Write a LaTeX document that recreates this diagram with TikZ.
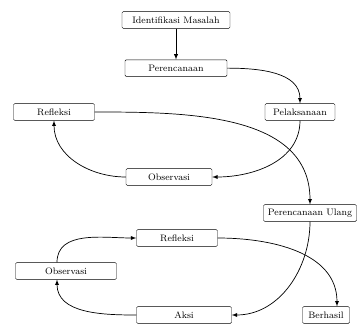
\documentclass[tikz,border=0pt]{standalone}
\usepackage{tikz}
\usetikzlibrary{arrows}
\usetikzlibrary{positioning}

\begin{document}
\begin{tikzpicture}[x=0.03cm,y=-0.03cm]
    \tikzstyle{every node}=[font=\footnotesize,node distance=0.93cm]
    \tikzstyle{every path}=[draw=black,semithick]
    \tikzstyle{bnode}=[draw=black,thin,rounded corners=1pt,minimum height=0.5cm,inner sep=1pt]

    \useasboundingbox[draw=none] (0,0) rectangle (357,329);

    \node[bnode,minimum width=3.24cm] (identify) at (176,20) {Identifikasi Masalah} ;
    \node[bnode,minimum width=3.06cm,below=of identify] (plan) {Perencanaan} ;
    \node[bnode,minimum width=2.1cm] (act) at (300,112) {Pelaksanaan} ;
    \node[bnode,minimum width=2.43cm] (reflect) at (54,112) {Refleksi} ;
    \node[bnode,minimum width=2.58cm] (observe) at (169,177) {Observasi} ;

    \node[bnode,minimum width=2.79cm] (replan) at (310,213) {Perencanaan Ulang} ;
    \node[bnode,minimum width=2.43cm] (reflecttwo) at (177,238) {Refleksi} ;
    \node[bnode,minimum width=3.03cm] (observetwo) at (66,271) {Observasi} ;
    \node[bnode,minimum width=2.85cm] (action) at (184,315) {Aksi} ;
    \node[bnode,minimum width=1.41cm] (success) at (326,315) {Berhasil} ;

    % first cycle
    \draw[-latex] (identify.south) -- (plan.north) ;
    \draw[-latex] (plan.east) to[out=0,in=90] (act.north) ;
    \draw[-latex] (act.south) to[out=-90,in=0] (observe.east) ;
    \draw[-latex] (observe.west) to[out=180,in=-90] (reflect.south) ;
    \draw[-latex] (reflect.east) to[out=0,in=90] (replan.north) ;

    % second cycle
    \draw[-latex] (replan.south) to[out=-90,in=0] (action.east) ;
    \draw[-latex] (action.west) to[out=180,in=-90] ([xshift=-0.27cm]observetwo.south) ;
    \draw[-latex] ([xshift=-0.27cm]observetwo.north) to[out=90,in=180] (reflecttwo.west) ;
    \draw[-latex] (reflecttwo.east) to[out=0,in=90] ([xshift=0.33cm]success.north) ;

\end{tikzpicture}
\end{document}
